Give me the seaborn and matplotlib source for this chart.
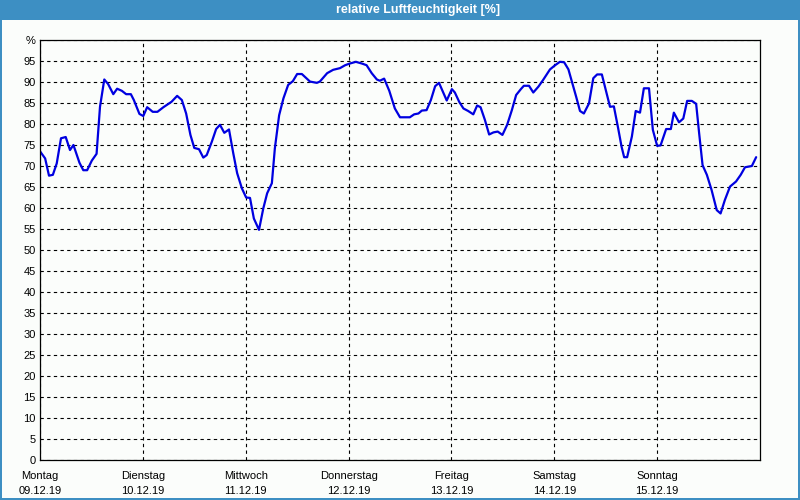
import matplotlib
matplotlib.use("Agg")
import matplotlib.pyplot as plt
import seaborn as sns
import pandas as pd
from matplotlib.patches import Rectangle

# ---- data ----
hours = [0.0, 1.2, 2.1, 3.0, 3.9, 4.9, 6.0, 7.0, 7.8, 9.2, 10.1, 11.0, 12.1, 13.2,
         14.0, 15.0, 15.9, 17.1, 18.0, 19.1, 20.1, 21.2, 21.9, 23.2, 24.1, 25.0,
         26.3, 27.4, 28.8, 30.7, 32.0, 33.1, 34.1, 35.1, 36.0, 37.1, 38.1, 38.9,
         40.1, 41.1, 42.0, 43.0, 44.1, 45.1, 46.0, 47.1, 48.1, 49.0, 49.9, 51.1,
         52.1, 53.0, 54.1, 54.8, 55.8, 56.8, 57.9, 59.0, 60.0, 61.1, 63.0, 64.6,
         65.3, 67.0, 68.4, 70.0, 71.2, 72.3, 73.7, 75.1, 76.2, 77.4, 78.6, 79.3,
         80.3, 81.5, 82.8, 84.0, 86.3, 87.3, 88.3, 89.1, 90.2, 91.2, 92.2, 93.1,
         94.0, 94.9, 96.1, 96.8, 97.8, 98.8, 99.9, 101.1, 102.0, 102.8, 103.8,
         104.8, 105.8, 106.8, 107.9, 109.0, 110.1, 111.1, 112.2, 112.9, 114.1,
         115.1, 116.3, 117.4, 119.0, 120.2, 121.3, 122.3, 123.3, 124.1, 125.1,
         126.0, 126.9, 128.1, 129.1, 130.0, 131.1, 132.1, 133.0, 133.9, 134.9,
         135.7, 136.3, 137.0, 138.1, 139.0, 140.0, 140.9, 142.1, 143.0, 144.0,
         144.8, 146.1, 147.2, 147.9, 149.1, 150.1, 151.0, 152.1, 153.1, 153.8,
         154.6, 155.6, 156.7, 157.9, 158.8, 159.8, 161.0, 162.4, 163.5, 164.5,
         166.1, 167.1]
humidity = [73.5, 71.8, 67.7, 67.9, 70.6, 76.6, 76.9, 73.8, 75.0, 70.8, 69.0, 69.0,
            71.3, 72.9, 84.1, 90.6, 89.5, 87.1, 88.4, 87.9, 87.1, 87.1, 85.7, 82.4,
            81.9, 84.0, 82.9, 82.9, 84.0, 85.3, 86.7, 85.7, 82.5, 77.4, 74.3, 74.0,
            72.0, 72.6, 75.8, 78.8, 79.8, 77.9, 78.7, 73.0, 68.3, 64.7, 62.5, 62.4,
            57.5, 54.8, 59.9, 63.5, 65.9, 74.2, 82.1, 86.1, 89.3, 90.2, 91.9, 91.9,
            90.1, 89.8, 90.1, 92.1, 92.9, 93.3, 94.0, 94.4, 94.8, 94.4, 94.0, 92.1,
            90.6, 90.3, 90.8, 87.9, 83.7, 81.6, 81.6, 82.3, 82.5, 83.2, 83.3, 85.7,
            89.0, 89.8, 87.7, 85.6, 88.3, 87.5, 85.3, 83.7, 83.1, 82.3, 84.4, 84.0,
            81.0, 77.5, 78.0, 78.2, 77.4, 79.8, 83.3, 86.9, 88.3, 89.1, 89.1, 87.5,
            88.9, 90.5, 93.0, 94.0, 94.8, 94.7, 93.0, 90.1, 86.5, 83.1, 82.5, 84.9,
            90.9, 91.8, 91.8, 87.7, 84.1, 84.2, 79.0, 74.6, 72.1, 72.1, 77.0, 83.1,
            82.7, 88.5, 88.5, 78.6, 74.8, 74.9, 78.8, 78.8, 82.7, 80.4, 81.3, 85.5,
            85.5, 84.8, 77.8, 70.2, 67.9, 64.3, 59.5, 58.7, 61.9, 65.1, 66.3, 67.9,
            69.7, 70.0, 72.1]

day_names = ["Montag", "Dienstag", "Mittwoch", "Donnerstag", "Freitag", "Samstag", "Sonntag"]
day_dates = ["09.12.19", "10.12.19", "11.12.19", "12.12.19", "13.12.19", "14.12.19", "15.12.19"]
y_ticks = list(range(0, 101, 5))
y_labels = [str(v) for v in y_ticks[:-1]] + ["%"]
title_text = "relative Luftfeuchtigkeit [%]"

df = pd.DataFrame({"h": hours, "rh": humidity})

sns.set_style("white")
plt.rcParams["font.family"] = ["Liberation Sans", "DejaVu Sans"]

BG = "#fbfdfb"
BLUE_BAR = "#3d8fc3"

fig = plt.figure(figsize=(8, 5), dpi=100, facecolor=BG)
ax = fig.add_axes([40 / 800, 40 / 500, 720 / 800, 420 / 500])
ax.set_facecolor(BG)

sns.lineplot(data=df, x="h", y="rh", ax=ax, color="#0000e0", linewidth=1.6)

ax.set_xlim(0, 168)
ax.set_ylim(0, 100)
ax.set_yticks(y_ticks)
ax.set_yticklabels(y_labels, fontsize=8, color="#000000")
ax.set_xticks([24 * i for i in range(7)])
ax.set_xticklabels([f"{n}\n{d}" for n, d in zip(day_names, day_dates)],
                   fontsize=8, color="#000000", linespacing=1.55)
ax.tick_params(axis="y", length=0, pad=3)
ax.tick_params(axis="x", length=0, pad=8)
ax.set_xlabel("")
ax.set_ylabel("")

ax.grid(True, color="black", linestyle=(0, (3, 3)), linewidth=0.8)
for s in ax.spines.values():
    s.set_visible(True)
    s.set_color("black")
    s.set_linewidth(0.9)

# window decoration: title bar and border
fig.patches.append(Rectangle((0, 480 / 500), 1, 20 / 500, transform=fig.transFigure,
                             facecolor=BLUE_BAR, edgecolor="none", zorder=0))
fig.patches.append(Rectangle((0, 0), 2 / 800, 1, transform=fig.transFigure,
                             facecolor=BLUE_BAR, edgecolor="none", zorder=0))
fig.patches.append(Rectangle((798 / 800, 0), 2 / 800, 1, transform=fig.transFigure,
                             facecolor=BLUE_BAR, edgecolor="none", zorder=0))
fig.patches.append(Rectangle((0, 0), 1, 2 / 500, transform=fig.transFigure,
                             facecolor=BLUE_BAR, edgecolor="none", zorder=0))
fig.text(418 / 800, 1 - 10 / 500, title_text, color="white", fontsize=9,
         fontweight="bold", ha="center", va="center")

fig.savefig("out.png", dpi=100, facecolor=BG)
